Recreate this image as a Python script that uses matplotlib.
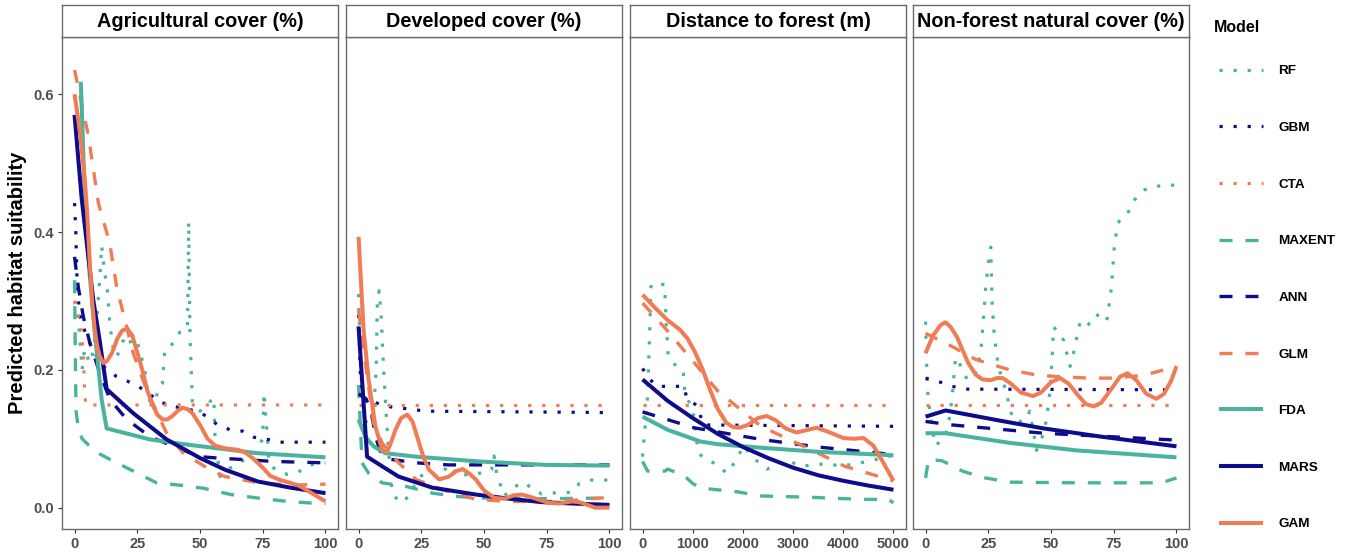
import matplotlib
matplotlib.use("Agg")
import matplotlib.pyplot as plt
import numpy as np

plt.rcParams['font.family'] = ['Liberation Sans', 'DejaVu Sans']

# ---------------- data ----------------
models = ["RF", "GBM", "CTA", "MAXENT", "ANN", "GLM", "FDA", "MARS", "GAM"]
panel_titles = ["Agricultural cover (%)", "Developed cover (%)",
                "Distance to forest (m)", "Non-forest natural cover (%)"]
x_ticks_pct = [0, 25, 50, 75, 100]
x_ticks_dist = [0, 1000, 2000, 3000, 4000, 5000]
y_ticks = [0.0, 0.2, 0.4, 0.6]

# Panel 1: Agricultural cover
agri_RF = [(0,0.30),(1,0.29),(2,0.25),(3,0.20),(4,0.23),(5,0.22),(6,0.21),(7,0.22),(8,0.24),(9,0.28),
           (10,0.33),(10.8,0.38),(12,0.34),(13,0.32),(14,0.27),(15,0.24),(16,0.22),(17,0.22),(19,0.24),
           (21,0.25),(23,0.235),(25,0.24),(26.5,0.22),(28,0.20),(29,0.17),(30,0.155),(32,0.14),(33,0.17),
           (35,0.18),(36,0.23),(38,0.235),(40,0.24),(42,0.255),(45,0.26),(45.5,0.415),(46,0.25),(47,0.15),
           (50,0.14),(53,0.15),(55.5,0.16),(56,0.10),(58,0.045),(61,0.055),(64,0.062),(68,0.07),(72,0.08),
           (75,0.10),(75.5,0.167),(76.5,0.12),(77.5,0.065),(80,0.055),(85,0.048),(88,0.05),(91,0.055),
           (95,0.063),(100,0.065)]
agri_GBM = [(0,0.442),(0.5,0.40),(1,0.33),(2,0.28),(4.8,0.248),(8,0.225),(11.5,0.205),(16.8,0.19),
            (21.4,0.183),(25.4,0.176),(30,0.165),(33.4,0.154),(39.4,0.147),(48.7,0.14),(53,0.132),
            (57,0.12),(62,0.113),(67,0.111),(71.6,0.102),(77,0.099),(82,0.095),(100,0.095)]
agri_CTA = [(0,0.30),(2,0.27),(3,0.25),(3.5,0.22),(4,0.17),(4.5,0.149),(100,0.149)]
agri_MAXENT = [(0,0.33),(0.3,0.22),(0.6,0.14),(1.5,0.115),(3,0.10),(6.1,0.089),(10,0.078),(14.1,0.07),
               (23.4,0.053),(32.7,0.036),(43.4,0.032),(51.6,0.028),(62.3,0.019),(72.9,0.014),
               (84.9,0.009),(96.9,0.006),(100,0.006)]
agri_ANN = [(0,0.364),(1.5,0.32),(3.5,0.277),(6.1,0.239),(10.1,0.195),(14.1,0.157),(20.8,0.128),
            (30.1,0.103),(39.4,0.089),(50,0.074),(57,0.072),(79.6,0.067),(100,0.065)]
agri_GLM = [(0,0.635),(5.5,0.54),(9.5,0.442),(14,0.384),(16.8,0.32),(23.4,0.224),(28.7,0.171),
            (36.7,0.108),(43.4,0.079),(54,0.055),(60,0.045),(75,0.035),(90,0.033),(100,0.034)]
agri_FDA = [(2.5,0.618),(4.1,0.45),(6,0.34),(8.1,0.253),(10.8,0.157),(12.8,0.115),(30,0.099),
            (46,0.091),(55,0.087),(73,0.079),(100,0.073)]
agri_MARS = [(0,0.57),(2.8,0.45),(5,0.38),(7.5,0.30),(10,0.243),(12.8,0.172),(23.4,0.137),
             (36.7,0.099),(50,0.072),(60,0.055),(73,0.038),(86,0.029),(100,0.021)]
agri_GAM = [(0,0.60),(2,0.55),(4,0.48),(5,0.43),(6,0.36),(7,0.30),(8,0.26),(9,0.235),(10,0.22),
            (11.5,0.21),(13,0.213),(15,0.225),(17,0.245),(19,0.257),(21,0.26),(23,0.25),(25,0.225),
            (27,0.2),(29,0.17),(31,0.15),(33,0.135),(35,0.128),(37,0.128),(39,0.133),(41,0.14),
            (43,0.145),(45,0.143),(47,0.137),(50,0.12),(53,0.1),(56,0.09),(60,0.086),(65,0.084),
            (68,0.08),(71,0.072),(75,0.058),(78,0.046),(82,0.04),(86,0.036),(90,0.031),(95,0.02),
            (100,0.009)]

# Panel 2: Developed cover
dev_RF = [(0,0.31),(0.5,0.25),(1,0.2),(1.5,0.16),(2.5,0.13),(3.5,0.12),(5,0.12),(6,0.14),(7,0.2),
          (7.5,0.3),(8.2,0.315),(9,0.28),(9.5,0.24),(10,0.2),(10.5,0.17),(11,0.137),(12,0.08),
          (13.5,0.02),(16.7,0.007),(20,0.016),(22,0.03),(24,0.045),(28,0.05),(32,0.045),(36,0.062),
          (40,0.045),(45,0.05),(50,0.05),(53,0.055),(54,0.075),(55,0.05),(58,0.017),(62,0.03),
          (66,0.037),(70,0.025),(73,0.02),(80,0.022),(85,0.022),(88,0.035),(92,0.04),(97,0.04),
          (100,0.04)]
dev_GBM = [(0,0.28),(0.5,0.22),(1,0.16),(5,0.155),(10.7,0.147),(16,0.145),(27,0.14),(100,0.138)]
dev_CTA = [(0,0.149),(100,0.149)]
dev_MAXENT = [(0,0.178),(0.7,0.12),(1.4,0.065),(4,0.05),(9.4,0.036),(18.7,0.031),(29.4,0.021),
              (40,0.016),(55,0.013),(75,0.013),(100,0.014)]
dev_ANN = [(0,0.165),(3,0.158),(5,0.14),(7,0.10),(9,0.078),(13,0.07),(23,0.065),(36,0.062),(100,0.062)]
dev_GLM = [(0,0.287),(2.7,0.21),(6,0.123),(9.4,0.094),(16,0.065),(22.8,0.041),(33.4,0.026),
           (46.8,0.012),(60,0.009),(80,0.009),(100,0.015)]
dev_FDA = [(0,0.128),(2.7,0.103),(6,0.089),(10.7,0.079),(22.8,0.074),(48,0.067),(75,0.062),(100,0.061)]
dev_MARS = [(0,0.263),(2,0.152),(3.4,0.074),(9.4,0.06),(16,0.045),(29.4,0.029),(46.8,0.019),
            (60,0.013),(73,0.008),(85,0.006),(100,0.004)]
dev_GAM = [(0,0.393),(2,0.258),(4,0.186),(6.7,0.118),(9.4,0.084),(11.4,0.081),(13,0.095),
           (14.7,0.113),(17,0.13),(19.4,0.135),(21.5,0.125),(24.1,0.094),(26,0.072),(28.1,0.055),
           (32.1,0.041),(36,0.045),(39,0.053),(41.4,0.056),(44,0.05),(46.7,0.041),(50,0.025),
           (54.2,0.014),(58,0.013),(62,0.018),(65,0.019),(69,0.015),(75.6,0.007),(80,0.006),
           (85,0.009),(88,0.008),(94.3,0.0),(100,0.0)]

# Panel 3: Distance to forest
dist_RF = [(0,0.074),(100,0.16),(140,0.25),(170,0.324),(440,0.324),(470,0.27),(510,0.222),
           (600,0.21),(810,0.199),(840,0.17),(1010,0.137),(1110,0.079),(1270,0.07),(1470,0.063),
           (1680,0.05),(1880,0.07),(2010,0.09),(2210,0.072),(2480,0.056),(2880,0.069),(3150,0.06),
           (3680,0.064),(3950,0.06),(4490,0.067),(5000,0.076)]
dist_GBM = [(0,0.202),(100,0.19),(280,0.176),(820,0.176),(880,0.16),(1080,0.148),(1150,0.134),
            (1220,0.12),(5000,0.118)]
dist_CTA = [(0,0.149),(5000,0.149)]
dist_MAXENT = [(0,0.067),(100,0.053),(450,0.053),(500,0.056),(700,0.05),(850,0.045),(1000,0.035),
               (1150,0.029),(1350,0.027),(1890,0.023),(2360,0.017),(3360,0.015),(4370,0.012),
               (4900,0.012),(5000,0.007)]
dist_ANN = [(0,0.139),(1020,0.116),(2360,0.099),(3500,0.088),(5000,0.077)]
dist_GLM = [(0,0.297),(480,0.258),(1000,0.213),(1490,0.17),(2360,0.118),(3360,0.084),(4030,0.06),
            (5000,0.039)]
dist_FDA = [(0,0.132),(500,0.113),(1150,0.096),(1500,0.092),(2360,0.087),(3500,0.081),(5000,0.076)]
dist_MARS = [(0,0.186),(500,0.155),(1000,0.13),(1500,0.107),(2000,0.088),(2500,0.072),(3000,0.058),
             (3500,0.047),(4000,0.039),(4500,0.032),(5000,0.026)]
dist_GAM = [(0,0.309),(250,0.29),(500,0.272),(750,0.258),(900,0.245),(1050,0.225),(1200,0.2),
            (1350,0.17),(1500,0.143),(1670,0.123),(1800,0.117),(1937,0.116),(2100,0.12),(2300,0.13),
            (2470,0.133),(2650,0.127),(2850,0.115),(3070,0.109),(3300,0.113),(3470,0.116),
            (3700,0.11),(4003,0.101),(4200,0.1),(4403,0.101),(4600,0.09),(4800,0.065),(5000,0.039)]

# Panel 4: Non-forest natural cover
nat_RF = [(0,0.27),(0.5,0.2),(1,0.16),(2.5,0.118),(4,0.09),(5.5,0.095),(8,0.105),(9.5,0.13),
          (10.6,0.16),(11.5,0.2),(12,0.218),(13.5,0.21),(15,0.195),(17,0.185),(19,0.19),(20,0.197),
          (22,0.224),(23,0.27),(24,0.32),(25,0.355),(26,0.378),(26.5,0.3),(27.4,0.25),(28.8,0.21),
          (30.5,0.185),(32.1,0.17),(33.5,0.145),(35,0.127),(38,0.125),(40,0.127),(41.5,0.14),
          (43,0.11),(44.2,0.083),(46.2,0.098),(48.2,0.127),(49.6,0.17),(50.5,0.22),(51,0.262),
          (53,0.255),(55,0.243),(57.6,0.205),(59,0.225),(60.4,0.249),(61.7,0.272),(63.5,0.27),
          (65.7,0.265),(67.5,0.275),(69.8,0.284),(71,0.28),(72.4,0.274),(73.8,0.311),(74.5,0.34),
          (75.1,0.374),(76.5,0.412),(78,0.42),(79.2,0.426),(81,0.43),(83.2,0.446),(85,0.455),
          (87.2,0.461),(90,0.465),(95.3,0.468),(100,0.468)]
nat_GBM = [(0,0.188),(5.2,0.183),(10.6,0.176),(16,0.172),(100,0.171)]
nat_CTA = [(0,0.149),(100,0.149)]
nat_MAXENT = [(0,0.043),(1.2,0.07),(6.6,0.068),(10,0.062),(14.7,0.053),(20,0.047),(24,0.043),
              (33.5,0.037),(60.4,0.036),(94,0.036),(100,0.043)]
nat_ANN = [(0,0.125),(10.6,0.12),(47,0.108),(100,0.098)]
nat_GLM = [(0,0.253),(10,0.235),(20,0.215),(33.5,0.2),(45,0.192),(53.6,0.19),(65,0.188),
           (73.8,0.188),(87,0.192),(100,0.205)]
nat_FDA = [(0,0.108),(8,0.108),(33.5,0.094),(60.4,0.083),(100,0.073)]
nat_MARS = [(0,0.132),(8,0.141),(30,0.126),(47,0.115),(70,0.103),(100,0.089)]
nat_GAM = [(0,0.224),(3,0.25),(6,0.265),(8,0.269),(10,0.262),(12.5,0.248),(14.7,0.229),(17,0.21),
           (20,0.193),(22.7,0.186),(26,0.185),(28.5,0.188),(30.8,0.188),(34,0.18),(38,0.167),
           (42.9,0.162),(46,0.167),(50,0.182),(53.6,0.188),(57,0.18),(61,0.162),(64,0.15),(67,0.147),
           (70,0.152),(74,0.172),(77.5,0.19),(80.5,0.195),(84,0.185),(88,0.165),(92,0.158),(95,0.165),
           (98,0.185),(100,0.205)]

panels = [
    [agri_RF, agri_GBM, agri_CTA, agri_MAXENT, agri_ANN, agri_GLM, agri_FDA, agri_MARS, agri_GAM],
    [dev_RF, dev_GBM, dev_CTA, dev_MAXENT, dev_ANN, dev_GLM, dev_FDA, dev_MARS, dev_GAM],
    [dist_RF, dist_GBM, dist_CTA, dist_MAXENT, dist_ANN, dist_GLM, dist_FDA, dist_MARS, dist_GAM],
    [nat_RF, nat_GBM, nat_CTA, nat_MAXENT, nat_ANN, nat_GLM, nat_FDA, nat_MARS, nat_GAM],
]

# ---------------- style ----------------
TEAL = "#4AB39D"
NAVY = "#0F0C8C"
ORANGE = "#F07C55"
colors = [TEAL, NAVY, ORANGE] * 3
DOT = (0, (1.0, 3.4))
DASH = (0, (3.9, 3.9))
styles = [DOT] * 3 + [DASH] * 3 + ["-"] * 3
widths = [2.3] * 3 + [2.4] * 3 + [2.9] * 3

W, H = 1351, 557
fig = plt.figure(figsize=(W / 100, H / 100), dpi=100)

lefts = [62, 346, 630, 913]
pw = 276
ptop, pbot = 37, 529
stop = 5
BORDER = "#6b6b6b"
TICKC = "#4D4D4D"

handles = []
for i, (left, series) in enumerate(zip(lefts, panels)):
    ax = fig.add_axes([left / W, 1 - pbot / H, pw / W, (pbot - ptop) / H])
    for j, s in enumerate(series):
        arr = np.array(s, dtype=float)
        ln, = ax.plot(arr[:, 0], arr[:, 1], color=colors[j], linestyle=styles[j],
                      linewidth=widths[j], dash_capstyle='butt', solid_capstyle='butt',
                      label=models[j], zorder=2 + j)
        if i == 0:
            handles.append(ln)
    ax.set_ylim(-0.031, 0.683)
    if i == 2:
        ax.set_xlim(-250, 5250)
        ax.set_xticks(x_ticks_dist)
    else:
        ax.set_xlim(-5, 105)
        ax.set_xticks(x_ticks_pct)
    ax.set_xticklabels([str(t) for t in ax.get_xticks().astype(int)],
                       fontsize=10.5, fontweight='bold', color=TICKC)
    if i == 0:
        ax.set_yticks(y_ticks)
        ax.set_yticklabels([f"{t:.1f}" for t in y_ticks], fontsize=10.5,
                           fontweight='bold', color=TICKC)
        ax.set_ylabel("Predicted habitat suitability", fontsize=14.5, fontweight='bold',
                      labelpad=5)
    else:
        ax.set_yticks([])
    ax.tick_params(axis='both', length=3, width=0.8, color="#333333", pad=2.5)
    for sp in ax.spines.values():
        sp.set_color(BORDER)
        sp.set_linewidth(1.0)
    # strip
    sax = fig.add_axes([left / W, 1 - ptop / H, pw / W, (ptop - stop) / H])
    sax.set_xticks([]); sax.set_yticks([])
    for sp in sax.spines.values():
        sp.set_color(BORDER)
        sp.set_linewidth(1.0)
    sax.text(0.5, 0.47, panel_titles[i], ha='center', va='center', fontsize=14.3,
             fontweight='bold', transform=sax.transAxes)

fig.text(1214 / W, 1 - 27 / H, "Model", ha='left', va='center', fontsize=11.5,
         fontweight='bold')
leg = fig.legend(handles, models, loc='upper left', bbox_to_anchor=(1219 / W, 1 - 65 / H),
                 frameon=False, fontsize=9.7, labelspacing=3.28,
                 handlelength=3.3, handletextpad=1.1, borderpad=0, borderaxespad=0)
for t in leg.get_texts():
    t.set_fontweight('bold')

fig.savefig("out.png", dpi=100)
